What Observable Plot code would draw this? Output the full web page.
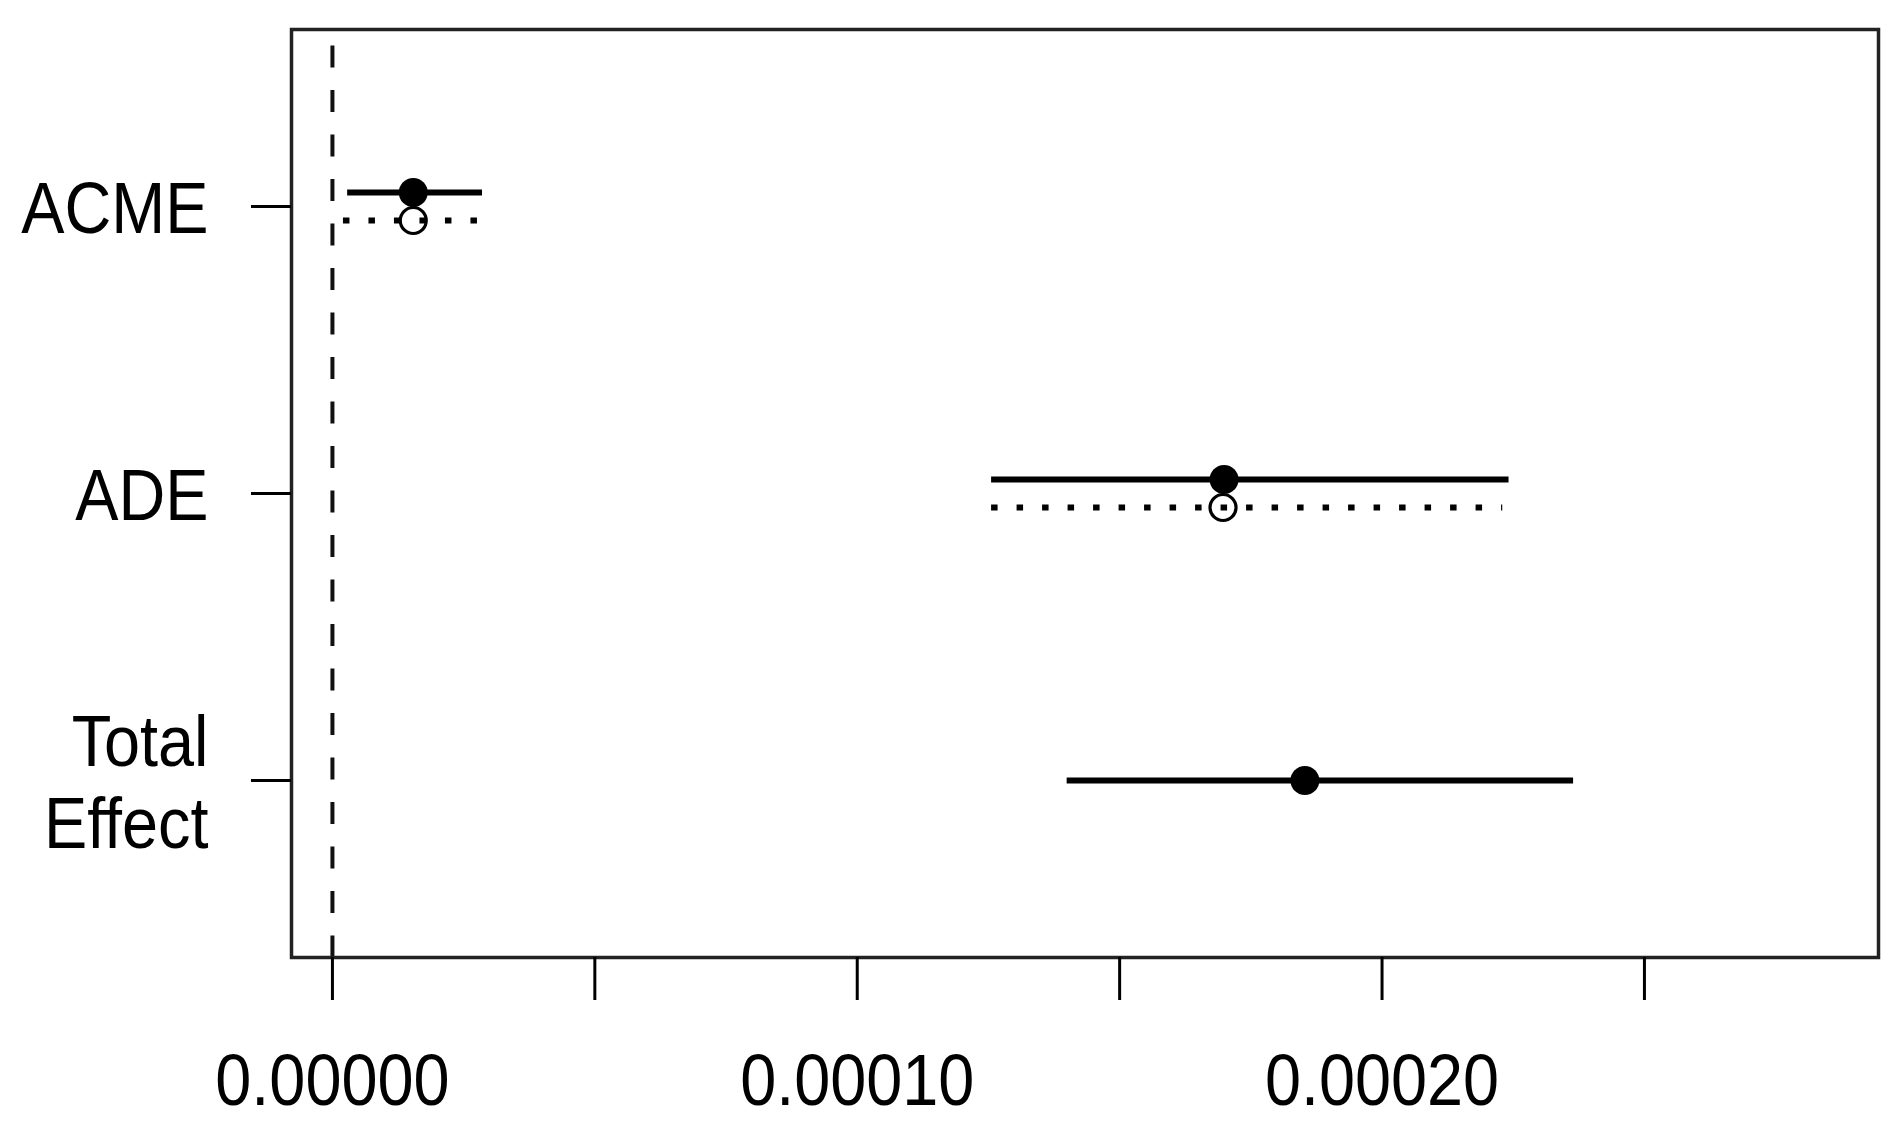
<!DOCTYPE html>
<html>
<head>
<meta charset="utf-8">
<script src="https://cdn.jsdelivr.net/npm/d3@7"></script>
<script src="https://cdn.jsdelivr.net/npm/@observablehq/plot@0.6"></script>
<style>
  html, body { margin: 0; padding: 0; background: #fff; }
  #chart svg { display: block; }
</style>
</head>
<body>
<div id="chart"></div>
<script>
// Categories (top to bottom)
const effects = ["ACME", "ADE", "Total Effect"];
const effectLabels = ["ACME", "ADE", "Total\nEffect"];

// Treated (solid line, filled point) — ACME, ADE
const treatedEffects = ["ACME", "ADE"];
const treatedEst = [0.0000154, 0.0001699];
const treatedLo  = [0.0000029, 0.0001256];
const treatedHi  = [0.0000286, 0.0002242];

// Control (dotted line, open point) — ACME, ADE
const controlEffects = ["ACME", "ADE"];
const controlEst = [0.0000154, 0.0001697];
const controlLo  = [0.0000021, 0.0001256];
const controlHi  = [0.0000286, 0.0002230];

// Total effect (solid line, filled point)
const totalEffects = ["Total Effect"];
const totalEst = [0.0001853];
const totalLo  = [0.0001400];
const totalHi  = [0.0002365];

// X axis ticks and labels
const xTicks = [0, 0.00005, 0.0001, 0.00015, 0.0002, 0.00025];
const xTickLabels = ["0.00000", "", "0.00010", "", "0.00020", ""];
const xDomain = [-0.0000078, 0.0002946];

const toRows = (cats, est, lo, hi) => cats.map((c, i) => ({effect: c, est: est[i], lo: lo[i], hi: hi[i]}));
const treated = toRows(treatedEffects, treatedEst, treatedLo, treatedHi);
const control = toRows(controlEffects, controlEst, controlLo, controlHi);
const total = toRows(totalEffects, totalEst, totalLo, totalHi);

const FONT = 72;
const chart = Plot.plot({
  width: 1901,
  height: 1128,
  marginLeft: 291,
  marginRight: 23,
  marginTop: 29,
  marginBottom: 171,
  style: {fontFamily: "'Liberation Sans', Arial, Helvetica, sans-serif", color: "#000", background: "#fff"},
  x: {domain: xDomain, nice: false},
  y: {type: "point", domain: effects, padding: 0.6167},
  marks: [
    Plot.ruleX([0], {stroke: "#111", strokeWidth: 4, strokeDasharray: "22,22.5", strokeDashoffset: 28}),
    // treated
    Plot.ruleY(treated, {y: "effect", x1: "lo", x2: "hi", dy: -14, stroke: "#000", strokeWidth: 6}),
    Plot.dot(treated, {y: "effect", x: "est", dy: -14, r: 14.5, fill: "#000", stroke: "none"}),
    // control
    Plot.ruleY(control, {y: "effect", x1: "lo", x2: "hi", dy: 14, stroke: "#000", strokeWidth: 6, strokeDasharray: "6.5,19"}),
    Plot.dot(control, {y: "effect", x: "est", dy: 14, r: 13, fill: "none", stroke: "#000", strokeWidth: 3.2}),
    // total
    Plot.ruleY(total, {y: "effect", x1: "lo", x2: "hi", stroke: "#000", strokeWidth: 6}),
    Plot.dot(total, {y: "effect", x: "est", r: 14.5, fill: "#000", stroke: "none"}),
    Plot.frame({stroke: "#222", strokeWidth: 3.5}),
    Plot.axisX({
      ticks: xTicks,
      tickFormat: (d) => xTickLabels[xTicks.indexOf(d)],
      tickSize: 43,
      tickPadding: 53,
      strokeWidth: 3,
      fontSize: FONT,
      fill: "#000",
      label: null
    }),
    Plot.axisY({
      ticks: effects,
      tickFormat: (d) => effectLabels[effects.indexOf(d)],
      tickSize: 40,
      tickPadding: 43,
      strokeWidth: 3,
      fontSize: FONT,
      lineHeight: 1.14,
      fill: "#000",
      label: null
    })
  ]
});

document.getElementById("chart").appendChild(chart);

// Narrow the tick label glyphs horizontally to match the reference's proportions.
d3.select(chart).selectAll("g[aria-label='x-axis tick label'] text, g[aria-label='y-axis tick label'] text").each(function () {
  const t = this.getAttribute("transform") || "";
  const m = /translate\(\s*([-\d.e]+)[ ,]+([-\d.e]+)\s*\)/.exec(t);
  const tx = m ? +m[1] : 0;
  const x = +(this.getAttribute("x") || 0);
  const X = tx + x;
  this.setAttribute("transform", `translate(${X},0) scale(0.9,1) translate(${-X},0) ${t}`);
});
</script>
</body>
</html>
